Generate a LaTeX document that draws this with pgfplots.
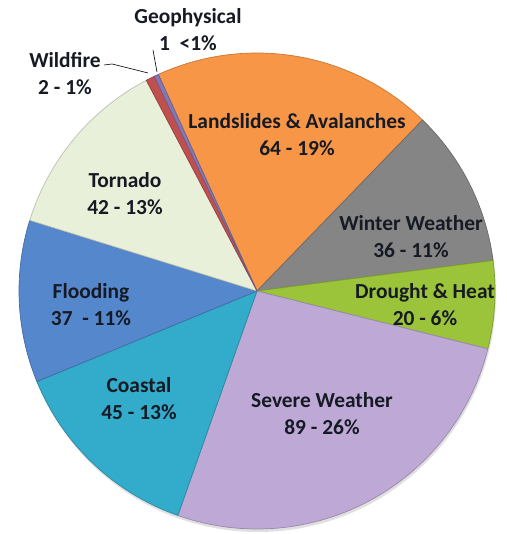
\documentclass[border=0pt]{standalone}
\usepackage{pgfplots}
\usepackage{pgfplotstable}
\pgfplotsset{compat=1.18}
\usepackage{fontspec}
\setmainfont{Carlito}

\definecolor{cLand}{HTML}{F79646}
\definecolor{cWint}{HTML}{858585}
\definecolor{cDrou}{HTML}{9CC43A}
\definecolor{cSev}{HTML}{BEA9D6}
\definecolor{cCoast}{HTML}{33ABCA}
\definecolor{cFlood}{HTML}{5587CC}
\definecolor{cTorn}{HTML}{E9F0DA}
\definecolor{cWild}{HTML}{C0504D}
\definecolor{cGeo}{HTML}{8577B5}
\definecolor{txt}{HTML}{161A24}

\pgfplotstableread[col sep=comma]{
name,value,color
Landslides,64,cLand
Winter,36,cWint
Drought,20,cDrou
Severe,89,cSev
Coastal,45,cCoast
Flooding,37,cFlood
Tornado,42,cTorn
Wildfire,2,cWild
Geophysical,1,cGeo
}\piedata

\begin{document}
\begin{tikzpicture}
\begin{axis}[
  x=1bp, y=1bp,
  xmin=0, xmax=507, ymin=0, ymax=534,
  hide axis,
  clip=false,
]
\path (axis cs:0,0) rectangle (axis cs:507,534);
% total
\pgfplotstablegetrowsof{\piedata}
\pgfmathtruncatemacro\N{\pgfplotsretval-1}
\def\total{0}
\pgfplotsforeachungrouped \i in {0,...,\N}{%
  \pgfplotstablegetelem{\i}{value}\of\piedata
  \pgfmathsetmacro\total{\total+\pgfplotsretval}%
}
% shadow
\fill[black!12] (axis cs:258,240) circle[radius=238bp];
\def\cum{0}
\pgfplotsforeachungrouped \i in {0,...,\N}{%
  \pgfplotstablegetelem{\i}{value}\of\piedata \let\v\pgfplotsretval
  \pgfplotstablegetelem{\i}{color}\of\piedata \let\c\pgfplotsretval
  \pgfmathsetmacro\aS{114.5-360*(\cum/\total)}%
  \pgfmathsetmacro\cum{\cum+\v}%
  \pgfmathsetmacro\aE{114.5-360*(\cum/\total)}%
  \edef\temp{\noexpand\fill[\c, draw=\c!80!black, line width=0.7pt, line join=round]
    (axis cs:257,243) -- ++(\aS:238bp) arc[start angle=\aS, end angle=\aE, radius=238bp] -- cycle;}%
  \temp
}
% labels
\tikzset{lab/.style={text=txt, align=center, font=\fontsize{21.5}{27}\selectfont\bfseries, inner sep=0pt}}
\node[lab] at (axis cs:297,399) {Landslides \& Avalanches\\64 - 19\%};
\node[lab] at (axis cs:411,297.5) {Winter Weather\\36 - 11\%};
\node[lab] at (axis cs:425,229) {Drought \& Heat\\20 - 6\%};
\node[lab] at (axis cs:322,120) {Severe Weather\\89 - 26\%};
\node[lab] at (axis cs:139,135.5) {Coastal\\45 - 13\%};
\node[lab] at (axis cs:91,229.5) {Flooding\\37 \ - 11\%};
\node[lab] at (axis cs:125,340.5) {Tornado\\42 - 13\%};
\node[lab] at (axis cs:188,504) {Geophysical\\1 \ <1\%};
\node[lab] at (axis cs:65,460) {Wildfire\\2 - 1\%};
\draw[black, line width=0.6pt] (axis cs:104,469) -- (axis cs:112,470) -- (axis cs:148,461);
\draw[black, line width=0.6pt] (axis cs:153,484) -- (axis cs:157,462);
\end{axis}
\end{tikzpicture}
\end{document}
